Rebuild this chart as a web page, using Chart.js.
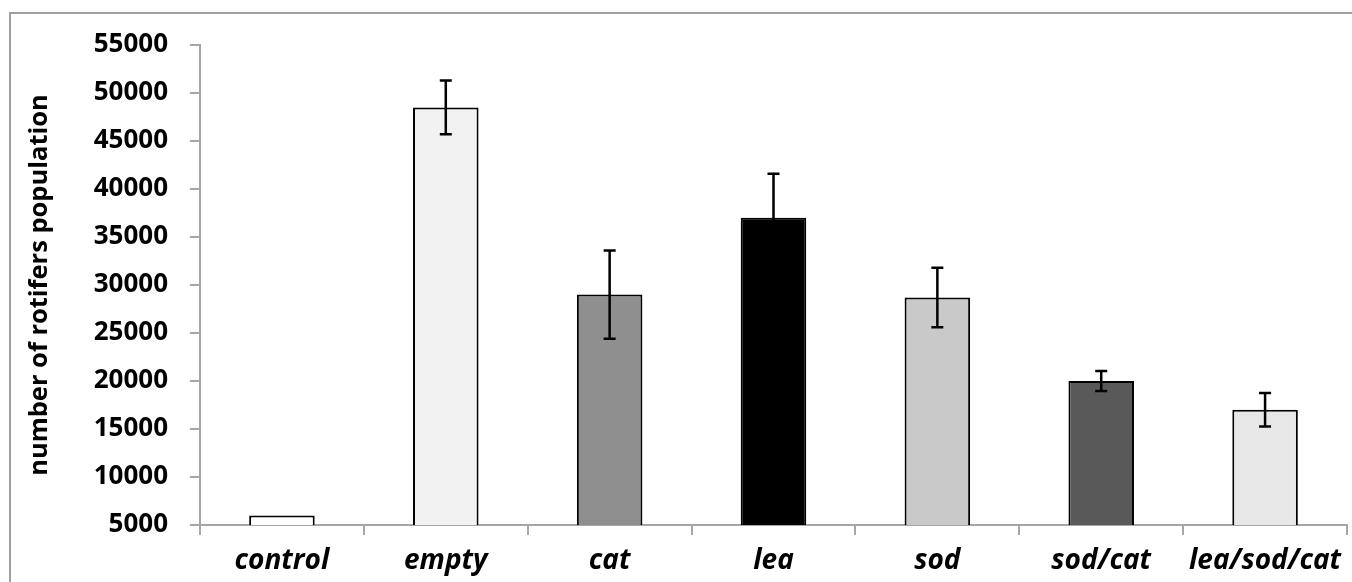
<!DOCTYPE html>
<html>
<head>
<meta charset="utf-8">
<script src="https://cdn.jsdelivr.net/npm/chart.js@4"></script>
<style>
    html, body { margin: 0; padding: 0; background: #ffffff; }
    #wrap { width: 1352px; height: 582px; }
</style>
</head>
<body>
<div id="wrap"><canvas id="rotifersChart" width="1352" height="582"></canvas></div>
<script>
// data
const categories = ['control', 'empty', 'cat', 'lea', 'sod', 'sod/cat', 'lea/sod/cat'];
const populationMeans = [6000, 48500, 29000, 37000, 28700, 20000, 17000];
const populationErrors = [0, 2800, 4600, 4600, 3100, 1050, 1750];
const barColors = ['#ffffff', '#f2f2f2', '#8f8f8f', '#000000', '#c9c9c9', '#595959', '#e7e7e7'];
const yTicks = [5000, 10000, 15000, 20000, 25000, 30000, 35000, 40000, 45000, 50000, 55000];

const axisGray = '#a6a6a6';

// Outer frame (only top and left edges show in the picture)
const framePlugin = {
    id: 'frame',
    beforeDraw: (chart) => {
        const c = chart.ctx;
        c.save();
        c.strokeStyle = '#a0a0a0';
        c.lineWidth = 2;
        c.strokeRect(10, 13, chart.width + 20, chart.height + 20);
        c.restore();
    }
};

// Error bars, placed through the scales
const errorBarPlugin = {
    id: 'errorBars',
    afterDatasetsDraw: (chart) => {
        const c = chart.ctx;
        const meta = chart.getDatasetMeta(0);
        const yScale = chart.scales.y;
        c.save();
        c.strokeStyle = '#000000';
        c.lineWidth = 2.5;
        meta.data.forEach((bar, i) => {
            const err = populationErrors[i];
            if (!err) return;
            const x = bar.x;
            const yTop = yScale.getPixelForValue(populationMeans[i] + err);
            const yBot = yScale.getPixelForValue(populationMeans[i] - err);
            c.beginPath();
            c.moveTo(x, yTop);
            c.lineTo(x, yBot);
            c.moveTo(x - 6, yTop);
            c.lineTo(x + 6, yTop);
            c.moveTo(x - 6, yBot);
            c.lineTo(x + 6, yBot);
            c.stroke();
        });
        c.restore();
    }
};

const ctx = document.getElementById('rotifersChart').getContext('2d');
new Chart(ctx, {
    type: 'bar',
    data: {
        labels: categories,
        datasets: [{
            label: 'rotifers',
            data: populationMeans,
            backgroundColor: barColors,
            borderColor: '#000000',
            borderWidth: 2,
            borderSkipped: 'bottom',
            barPercentage: 0.5,
            categoryPercentage: 0.8
        }]
    },
    options: {
        responsive: false,
        animation: false,
        layout: {
            padding: { top: 45, right: 5, bottom: 0, left: 0 }
        },
        plugins: {
            legend: { display: false },
            tooltip: { enabled: false }
        },
        scales: {
            x: {
                grid: {
                    drawOnChartArea: false,
                    drawTicks: true,
                    tickLength: 10,
                    color: axisGray,
                    lineWidth: 2
                },
                border: { display: true, color: axisGray, width: 2 },
                ticks: {
                    color: '#000000',
                    padding: 9,
                    font: { family: 'Open Sans', size: 28, weight: 'bold', style: 'italic' }
                },
                afterFit: (scale) => { scale.height = 57; }
            },
            y: {
                min: yTicks[0],
                max: yTicks[yTicks.length - 1],
                grid: {
                    drawOnChartArea: false,
                    drawTicks: true,
                    tickLength: 10,
                    color: axisGray,
                    lineWidth: 2
                },
                border: { display: true, color: axisGray, width: 2 },
                afterBuildTicks: (scale) => {
                    scale.ticks = yTicks.map(v => ({ value: v }));
                },
                ticks: {
                    color: '#000000',
                    padding: 22,
                    font: { family: 'Open Sans', size: 26, weight: 'bold' },
                    callback: (value) => String(value)
                },
                title: {
                    display: true,
                    text: 'number of rotifers population',
                    color: '#000000',
                    padding: { top: 24, bottom: 0 },
                    font: { family: 'Open Sans', size: 25.5, weight: 'bold' }
                },
                afterFit: (scale) => { scale.width = 200; }
            }
        }
    },
    plugins: [framePlugin, errorBarPlugin]
});
</script>
</body>
</html>
